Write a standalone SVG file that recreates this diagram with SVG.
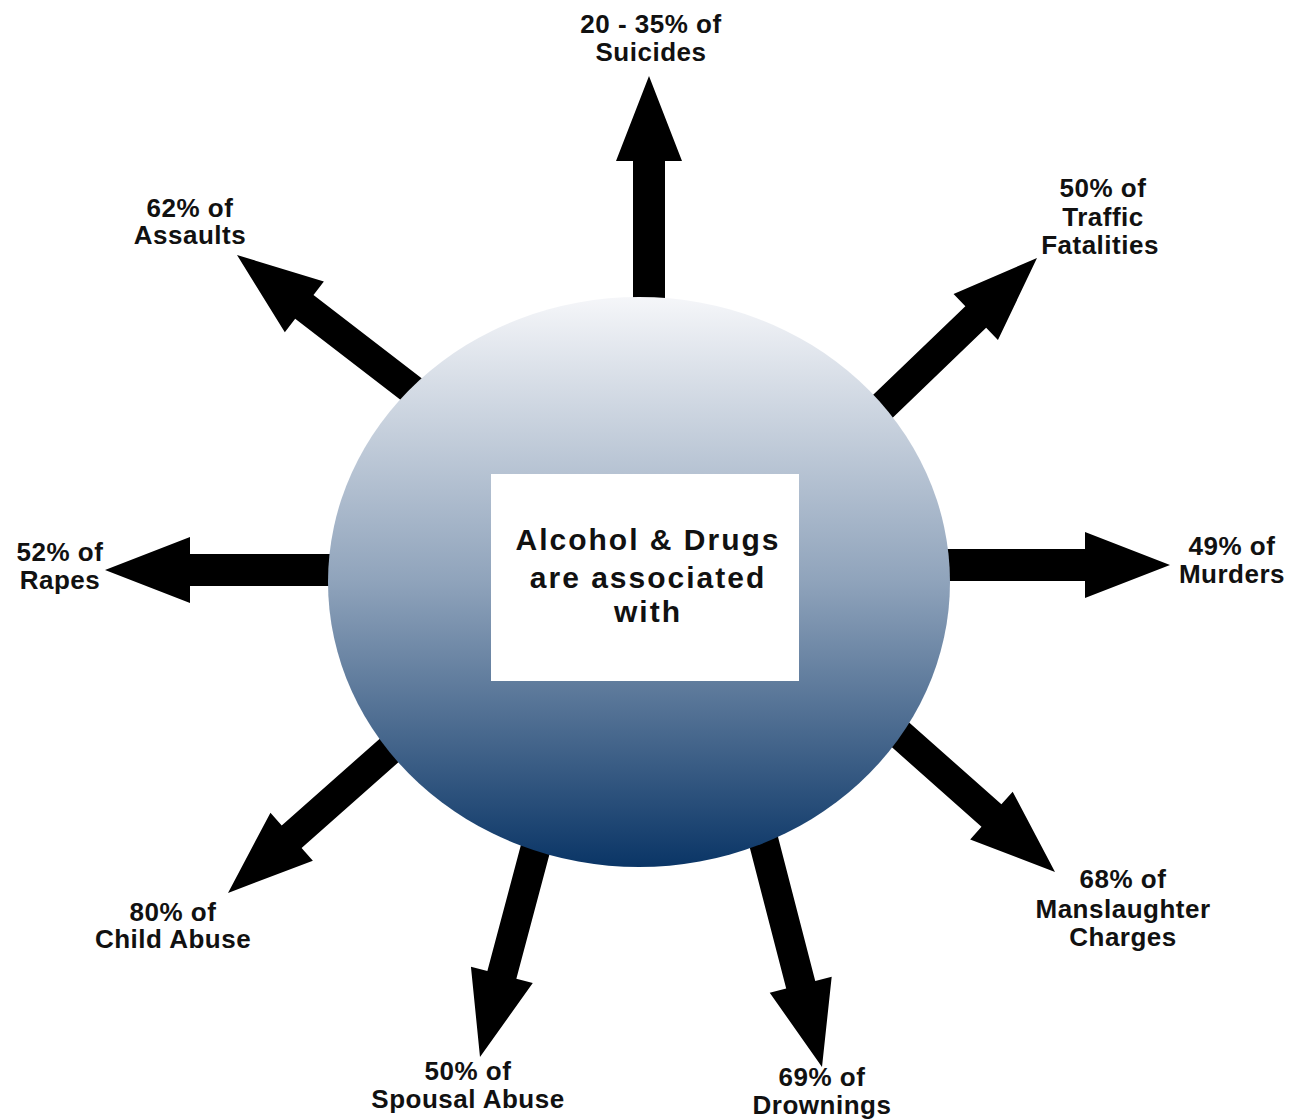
<svg xmlns="http://www.w3.org/2000/svg" width="1289" height="1120" viewBox="0 0 1289 1120">
<defs>
<linearGradient id="sphere" x1="0" y1="0" x2="0" y2="1">
<stop offset="0" stop-color="#f5f6f9"/>
<stop offset="0.5" stop-color="#8fa3bb"/>
<stop offset="1" stop-color="#0a3566"/>
</linearGradient>
<style>
.arrow{fill:#000}
.lbl{font-family:"Liberation Sans",Arial,sans-serif;font-weight:bold;font-size:26px;fill:#111;text-anchor:middle;letter-spacing:0.5px}
.ctr{font-family:"Liberation Sans",Arial,sans-serif;font-weight:bold;font-size:30px;fill:#111;text-anchor:middle;letter-spacing:2px}
</style>
</defs>
<rect width="1289" height="1120" fill="#fff"/>
<g id="connectors">
<polygon class="arrow" transform="translate(649,76) rotate(-90)" points="0,0 -85,-33 -85,-16 -234,-16 -234,16 -85,16 -85,33"/>
<polygon class="arrow" transform="translate(1170,565) rotate(0)" points="0,0 -85,-33 -85,-16 -235,-16 -235,16 -85,16 -85,33"/>
<polygon class="arrow" transform="translate(105,570) rotate(180)" points="0,0 -85,-33 -85,-16 -240,-16 -240,16 -85,16 -85,33"/>
<polygon class="arrow" transform="translate(237,255) rotate(-142.4)" points="0,0 -85,-32 -85,-15 -235,-15 -235,15 -85,15 -85,32"/>
<polygon class="arrow" transform="translate(1037,258) rotate(-43.9)" points="0,0 -85,-32 -85,-15 -236,-15 -236,15 -85,15 -85,32"/>
<polygon class="arrow" transform="translate(1055,872) rotate(41.6)" points="0,0 -85,-32 -85,-15 -228,-15 -228,15 -85,15 -85,32"/>
<polygon class="arrow" transform="translate(228,893) rotate(138.5)" points="0,0 -85,-32 -85,-15 -234,-15 -234,15 -85,15 -85,32"/>
<polygon class="arrow" transform="translate(480,1057) rotate(104.9)" points="0,0 -85,-32 -85,-15 -233,-15 -233,15 -85,15 -85,32"/>
<polygon class="arrow" transform="translate(822,1067) rotate(75.5)" points="0,0 -85,-32 -85,-15 -246,-15 -246,15 -85,15 -85,32"/>
</g>
<g id="center">
<ellipse cx="639" cy="582" rx="311" ry="285" fill="url(#sphere)"/>
<rect x="491" y="474" width="308" height="207" fill="#fff"/>
<text class="ctr" x="648" y="550">Alcohol &amp; Drugs</text>
<text class="ctr" x="648" y="588">are associated</text>
<text class="ctr" x="648" y="622">with</text>
</g>
<g id="suicides"><text class="lbl" x="651" y="33">20 - 35% of</text><text class="lbl" x="651" y="61">Suicides</text></g>
<g id="assaults"><text class="lbl" x="190" y="217">62% of</text><text class="lbl" x="190" y="244">Assaults</text></g>
<g id="traffic"><text class="lbl" x="1103" y="197">50% of</text><text class="lbl" x="1103" y="226">Traffic</text><text class="lbl" x="1100" y="254">Fatalities</text></g>
<g id="murders"><text class="lbl" x="1232" y="555">49% of</text><text class="lbl" x="1232" y="583">Murders</text></g>
<g id="manslaughter"><text class="lbl" x="1123" y="888">68% of</text><text class="lbl" x="1123" y="918">Manslaughter</text><text class="lbl" x="1123" y="946">Charges</text></g>
<g id="drownings"><text class="lbl" x="822" y="1086">69% of</text><text class="lbl" x="822" y="1114">Drownings</text></g>
<g id="spousal"><text class="lbl" x="468" y="1080">50% of</text><text class="lbl" x="468" y="1108">Spousal Abuse</text></g>
<g id="childabuse"><text class="lbl" x="173" y="921">80% of</text><text class="lbl" x="173" y="948">Child Abuse</text></g>
<g id="rapes"><text class="lbl" x="60" y="561">52% of</text><text class="lbl" x="60" y="589">Rapes</text></g>
</svg>
